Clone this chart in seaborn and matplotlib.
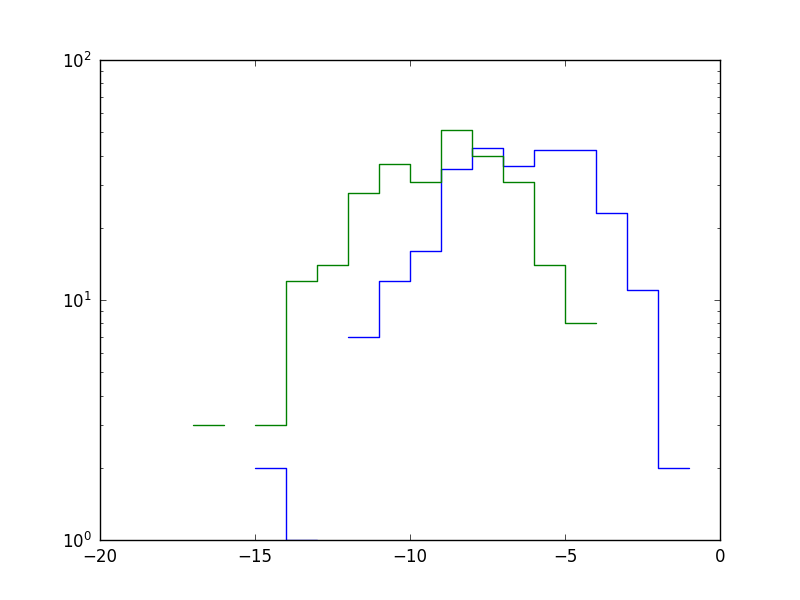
import numpy as np
import pandas as pd
import matplotlib
matplotlib.use("Agg")
import matplotlib.pyplot as plt
import seaborn as sns

# Bin edges (unit-width bins)
bin_edges = list(range(-20, 1))
# Counts per bin [-20,-19], ..., [-1,0]; 0 means empty bin
blue_counts = [0, 0, 0, 0, 0, 2, 1, 0, 7, 12, 16, 35, 43, 36, 42, 42, 23, 11, 2, 0]
green_counts = [0, 0, 0, 3, 0, 3, 12, 14, 28, 37, 31, 51, 40, 31, 14, 8, 0, 0, 0, 0]

sns.set_style("white")
plt.rcParams["font.family"] = ["DejaVu Sans"]
plt.rcParams["mathtext.fontset"] = "dejavusans"

fig = plt.figure(figsize=(8, 6), dpi=100)
ax = fig.add_axes([0.125, 0.1, 0.775, 0.8])


def segments(counts):
    segs = []
    cur = []
    for i, c in enumerate(counts):
        if c > 0:
            cur.append(i)
        else:
            if cur:
                segs.append(cur)
            cur = []
    if cur:
        segs.append(cur)
    return segs


def draw(counts, color):
    for k, seg in enumerate(segments(counts)):
        xs = [bin_edges[i] for i in seg] + [bin_edges[seg[-1] + 1]]
        ys = [counts[i] for i in seg] + [counts[seg[-1]]]
        df = pd.DataFrame({"x": xs, "y": ys})
        sns.lineplot(data=df, x="x", y="y", ax=ax, color=color, lw=1.0,
                     drawstyle="steps-post", estimator=None, sort=False)


draw(blue_counts, "#0000ff")
draw(green_counts, "#008000")

ax.set_yscale("log")
ax.set_xlim(-20, 0)
ax.set_ylim(1, 100)
ax.set_xticks([-20, -15, -10, -5, 0])
ax.set_xticklabels(["\u221220", "\u221215", "\u221210", "\u22125", "0"])
ax.set_xlabel("")
ax.set_ylabel("")
for s in ax.spines.values():
    s.set_visible(True)
    s.set_color("black")
    s.set_linewidth(1.0)
ax.tick_params(which="both", direction="in", top=True, right=True,
               bottom=True, left=True, colors="black", labelsize=12)
ax.tick_params(which="major", length=4, width=0.5, pad=6)
ax.tick_params(which="minor", length=2, width=0.5)
ax.xaxis.set_minor_locator(matplotlib.ticker.NullLocator())
ax.grid(False)

fig.savefig("out.png", dpi=100)
